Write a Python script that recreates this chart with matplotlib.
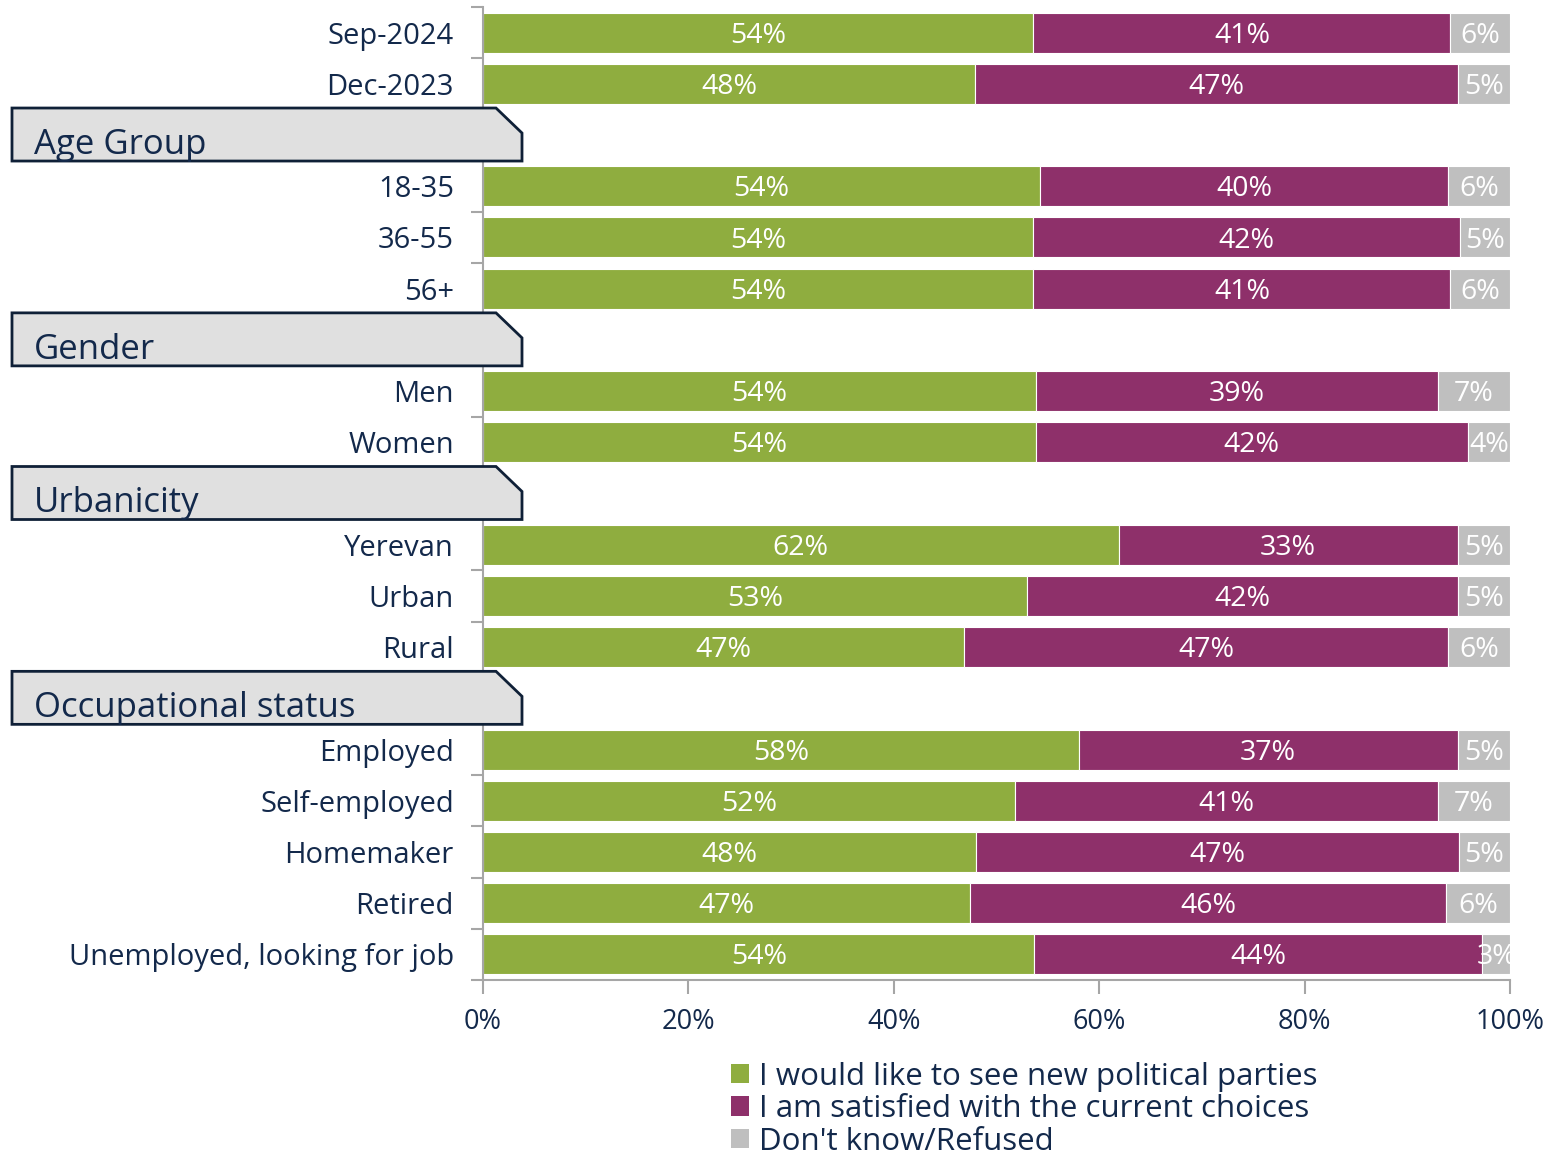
import matplotlib.pyplot as plt
from matplotlib.patches import Polygon, Patch

plt.rcParams['font.family'] = ['Open Sans', 'DejaVu Sans']

# groups of rows (first group has no header box)
group_names = ["", "Age Group", "Gender", "Urbanicity", "Occupational status"]
group_sizes = [2, 3, 2, 3, 5]

labels = ["Sep-2024", "Dec-2023",
          "18-35", "36-55", "56+",
          "Men", "Women",
          "Yerevan", "Urban", "Rural",
          "Employed", "Self-employed", "Homemaker", "Retired",
          "Unemployed, looking for job"]

new_parties = [53.6, 47.9, 54.2, 53.6, 53.6, 53.8, 53.8, 61.9, 53.0, 46.8, 58.0, 51.8, 48.0, 47.4, 53.7]
satisfied = [40.6, 47.0, 39.8, 41.5, 40.6, 39.2, 42.1, 33.0, 41.9, 47.2, 36.9, 41.2, 47.0, 46.4, 43.6]
dont_know = [5.8, 5.1, 6.0, 4.9, 5.8, 7.0, 4.1, 5.1, 5.1, 6.0, 5.1, 7.0, 5.0, 6.2, 2.7]

series_names = ["I would like to see new political parties",
                "I am satisfied with the current choices",
                "Don't know/Refused"]
colors = ["#8fad3f", "#8e306a", "#bfbfbf"]
navy = "#13294b"
axis_gray = "#a6a6a6"

W, H = 1560, 1155
fig = plt.figure(figsize=(W / 100, H / 100), dpi=100)
ax = fig.add_axes([483 / W, 1 - 980 / H, 1027 / W, 973 / H])

# row positions
pos = 0
rows = []
headers = []
for name, n in zip(group_names, group_sizes):
    if name:
        headers.append((name, pos))
        pos += 1
    for k in range(n):
        rows.append(pos)
        pos += 1
nrows = pos

series = [new_parties, satisfied, dont_know]
left = [0.0] * len(labels)
for vals, col, name in zip(series, colors, series_names):
    ax.barh(rows, vals, left=left, height=0.78, color=col, edgecolor="white",
            linewidth=0.8, label=name)
    for r, l, v in zip(rows, left, vals):
        ax.text(l + v / 2, r + 0.06, f"{v:.0f}%", ha="center", va="center",
                color="white", fontsize=20.5)
    left = [a + b for a, b in zip(left, vals)]

ax.set_xlim(0, 100)
ax.set_ylim(nrows - 0.5, -0.5)
ax.set_xticks(range(0, 101, 20))
ax.set_xticklabels([f"{t}%" for t in range(0, 101, 20)], fontsize=19.5, color=navy)
ax.set_yticks(rows)
ax.set_yticklabels(labels, fontsize=21, color=navy)
ax.set_yticks([i - 0.5 for i in range(nrows + 1)], minor=True)
ax.tick_params(axis="y", which="major", length=0, pad=21)
ax.tick_params(axis="y", which="minor", length=9, color=axis_gray, width=1.5)
ax.tick_params(axis="x", length=10, color=axis_gray, width=1.5, pad=10)
for s in ["top", "right"]:
    ax.spines[s].set_visible(False)
for s in ["left", "bottom"]:
    ax.spines[s].set_color(axis_gray)
    ax.spines[s].set_linewidth(1.5)

# header boxes with cut corner
for name, p in headers:
    yc = ax.transData.transform((0, p))[1]
    x0, x1 = 12, 522
    y0, y1 = yc - 26, yc + 27
    pts = [(x0, y0), (x0, y1), (x1 - 26, y1), (x1, y1 - 25), (x1, y0)]
    poly = Polygon([(x / W, y / H) for x, y in pts], closed=True,
                   transform=fig.transFigure, facecolor="#e0e0e0",
                   edgecolor="#0f2037", linewidth=2, zorder=5)
    fig.add_artist(poly)
    fig.text((x0 + 22) / W, (y0 + 7) / H, name, fontsize=25, color=navy,
             ha="left", va="baseline", zorder=6)

handles = [Patch(facecolor=c, edgecolor="none") for c in colors]
fig.legend(handles, series_names, loc="upper left",
           bbox_to_anchor=(718 / W, 1 - 1049 / H), frameon=False,
           fontsize=22.5, handlelength=0.6, handleheight=0.6,
           handletextpad=0.3, labelspacing=0.08, labelcolor=navy,
           borderaxespad=0)

plt.savefig("out.png", dpi=100)
